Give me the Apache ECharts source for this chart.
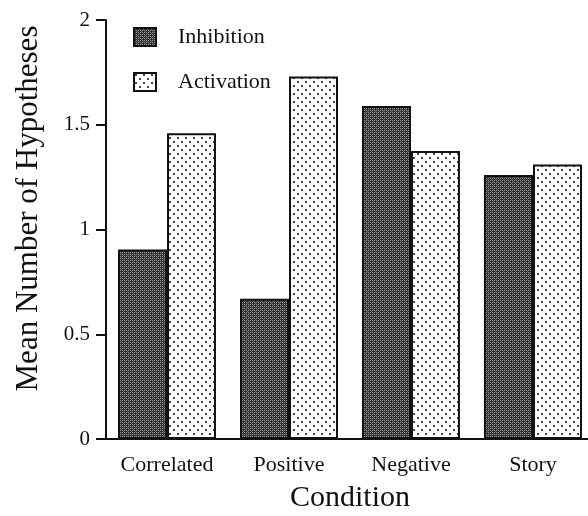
<!DOCTYPE html>
<html><head><meta charset="utf-8">
<script src="https://cdn.jsdelivr.net/npm/echarts@6/dist/echarts.min.js"></script>
<style>html,body{margin:0;padding:0;background:#fff}#c{width:588px;height:516px}</style>
</head><body><div id="c"></div>
<script>
var categories = ['Correlated', 'Positive', 'Negative', 'Story'];
var inhibition = [0.905, 0.67, 1.59, 1.26];
var activation = [1.46, 1.73, 1.375, 1.31];
var seriesNames = ['Inhibition', 'Activation'];
var yTicks = [0, 0.5, 1, 1.5, 2];

function makeDark() {
  var c = document.createElement('canvas'); c.width = 4; c.height = 4;
  var g = c.getContext('2d');
  g.fillStyle = '#303030'; g.fillRect(0, 0, 4, 4);
  g.fillStyle = '#959595';
  g.fillRect(0, 0, 1, 1); g.fillRect(2, 2, 1, 1); g.fillRect(2, 0, 1, 1); g.fillRect(0, 2, 1, 1);
  g.fillStyle = '#606060';
  g.fillRect(1, 1, 1, 1); g.fillRect(3, 3, 1, 1);
  return c;
}
function makeDots() {
  var c = document.createElement('canvas'); c.width = 8; c.height = 8;
  var g = c.getContext('2d');
  g.fillStyle = '#ffffff'; g.fillRect(0, 0, 8, 8);
  g.fillStyle = '#444';
  g.fillRect(1, 1, 2, 2); g.fillRect(5, 5, 2, 2);
  return c;
}
var darkFill = { image: makeDark(), repeat: 'repeat' };
var dotFill = { image: makeDots(), repeat: 'repeat' };
var font = '"Liberation Serif", "Times New Roman", serif';

var chart = echarts.init(document.getElementById('c'), null, { renderer: 'canvas' });
chart.setOption({
  animation: false,
  textStyle: { fontFamily: font, color: '#111' },
  grid: { left: 106, right: -6, top: 20, bottom: 77, containLabel: false, outerBoundsMode: 'none' },
  legend: {
    left: 128, top: 21, orient: 'vertical', itemWidth: 22, itemHeight: 18, itemGap: 23,
    textStyle: { fontFamily: font, fontSize: 22, color: '#111', padding: [0, 0, 0, 17] },
    data: [
      { name: seriesNames[0], icon: 'rect', itemStyle: { color: darkFill, borderColor: '#111', borderWidth: 2 } },
      { name: seriesNames[1], icon: 'rect', itemStyle: { color: dotFill, borderColor: '#111', borderWidth: 2 } }
    ]
  },
  xAxis: {
    type: 'category', data: categories,
    name: 'Condition', nameLocation: 'middle', nameGap: 44,
    nameTextStyle: { fontFamily: font, fontSize: 30, color: '#111' },
    axisLine: { lineStyle: { color: '#111', width: 2 } },
    axisTick: { alignWithLabel: true, interval: 0, length: 8, lineStyle: { color: '#111', width: 2 } },
    axisLabel: { interval: 0, hideOverlap: false, fontFamily: font, fontSize: 22, color: '#111', margin: 15 }
  },
  yAxis: {
    type: 'value', min: yTicks[0], max: yTicks[yTicks.length - 1], interval: 0.5,
    name: 'Mean Number of Hypotheses', nameLocation: 'middle', nameGap: 62,
    nameTextStyle: { fontFamily: font, fontSize: 31, color: '#111', padding: [0, 0, 0, 42] },
    axisLine: { show: true, lineStyle: { color: '#111', width: 2 } },
    axisTick: { show: true, length: 10, lineStyle: { color: '#111', width: 2 } },
    axisLabel: { fontFamily: font, fontSize: 21, color: '#111', margin: 16 },
    splitLine: { show: false }
  },
  series: [
    { name: seriesNames[0], type: 'bar', data: inhibition, barWidth: 49, barGap: '0%',
      itemStyle: { color: darkFill, borderColor: '#111', borderWidth: 2 } },
    { name: seriesNames[1], type: 'bar', data: activation, barWidth: 49, barGap: '0%',
      itemStyle: { color: dotFill, borderColor: '#111', borderWidth: 2 } }
  ]
});
</script></body></html>
